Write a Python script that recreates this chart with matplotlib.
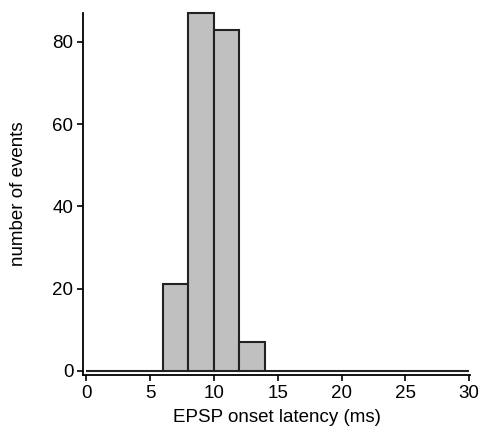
import numpy as np
import matplotlib.pyplot as plt

plt.rcParams['font.family'] = ['Liberation Sans', 'DejaVu Sans']

# histogram of EPSP onset latencies, 2 ms bins from 0 to 30 ms
bin_edges = np.arange(0, 32, 2)
counts = [0, 0, 0, 21, 87, 83, 7, 0, 0, 0, 0, 0, 0, 0, 0]

fig = plt.figure(figsize=(4.81, 4.38), dpi=100)
ax = fig.add_axes([0.173, 0.144, 0.805, 0.826])

bars = ax.bar(bin_edges[:-1], counts, width=2, align='edge',
              color='#c0c0c0', edgecolor='#222222', linewidth=1.5)
for b in bars:
    b.set_clip_on(False)

ax.set_xlim(-0.25, 30.1)
ax.set_ylim(-1, 87)
ax.set_xticks([0, 5, 10, 15, 20, 25, 30])
ax.set_yticks([0, 20, 40, 60, 80])

for s in ['top', 'right']:
    ax.spines[s].set_visible(False)
for s in ['left', 'bottom']:
    ax.spines[s].set_linewidth(1.3)

ax.tick_params(direction='out', length=4, width=1.2, labelsize=13.5, pad=3)
ax.set_xlabel('EPSP onset latency (ms)', fontsize=13.5, labelpad=5)
ax.set_ylabel('number of events', fontsize=13.5, labelpad=18)

fig.savefig('out.png', dpi=100)
